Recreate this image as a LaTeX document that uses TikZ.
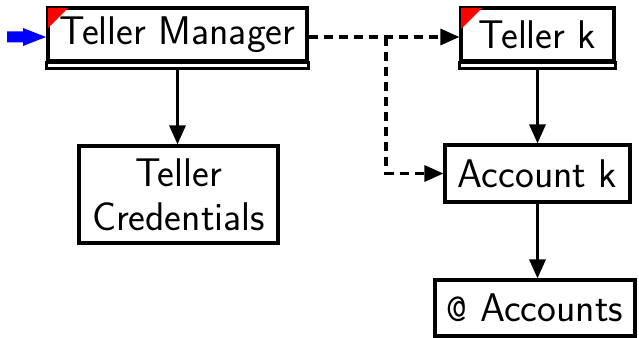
\documentclass[tikz,border=0pt]{standalone}
\usepackage{fontspec}
\usetikzlibrary{arrows.meta}
\begin{document}
\begin{tikzpicture}[x=1pt,y=-1pt,
  box/.style={draw,line width=3.2pt,rectangle,inner sep=0pt,align=center,
    font=\fontsize{40}{44}\selectfont\sffamily},
  link/.style={line width=3.2pt,-{Triangle[length=19pt,width=16pt]}},
  dlink/.style={link,dash pattern=on 9pt off 6pt},
  marker/.style={fill=red,draw=none}]
\useasboundingbox (0,0) rectangle (639,337);

% boxes
\node[box,minimum width=259pt,minimum height=53pt] (tm) at (177.5,34.5) {Teller Manager};
\node[box,minimum width=153pt,minimum height=53pt] (tk) at (537.5,34.5) {Teller k};
\node[box,minimum width=199pt,minimum height=97pt] (tc) at (178.5,194.5) {Teller\\Credentials};
\node[box,minimum width=185pt,minimum height=57pt] (ak) at (537.5,173.5) {Account k};
\node[box,minimum width=200pt,minimum height=56pt] (ac) at (535,308) {\texttt{@} Accounts};

% double bottoms
\draw[line width=3.2pt] ([yshift=-6pt]tm.south west) rectangle (tm.south east);
\draw[line width=3.2pt] ([yshift=-6pt]tk.south west) rectangle (tk.south east);

% red corner markers
\fill[marker] ([shift={(1.6,1.6)}]tm.north west) -- ++(20,0) -- ++(-20,20) -- cycle;
\fill[marker] ([shift={(1.6,1.6)}]tk.north west) -- ++(21,0) -- ++(-21,21) -- cycle;

% entry arrow
\coordinate (entry) at (7,37);
\fill[blue] (entry) ++(0,-5.5) -- ++(16,0) -- ++(0,-3.5) -- (46,37) -- (23,46) -- (23,42.5) -- (7,42.5) -- cycle;

% connectors
\coordinate (split) at (386,37);
\draw[link] ([yshift=-6pt]tm.south) -- (tm.south |- tc.north);
\draw[link] ([yshift=-6pt]tk.south) -- (ak.north);
\draw[link] (ak.south) -- (ak.south |- ac.north);
\draw[dlink] (tm.east |- split) -- (tk.west |- split);
\draw[dlink] (split) |- (ak.west);
\end{tikzpicture}
\end{document}
